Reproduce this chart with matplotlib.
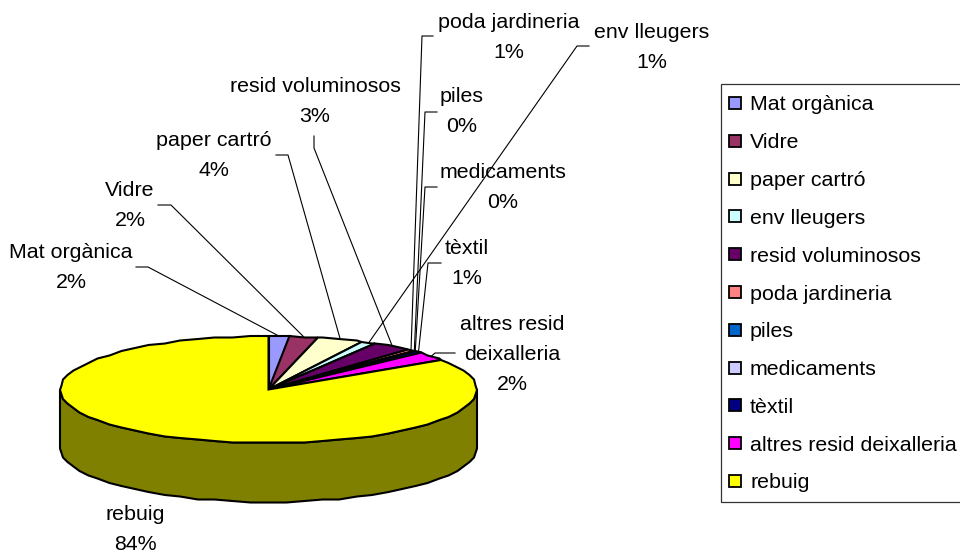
"""
Waste fractions pie drawn as a tilted 3D disc with leader lines and a boxed legend
"""
import numpy as np
import matplotlib
matplotlib.use('Agg')
import matplotlib.pyplot as plt
from matplotlib.patches import Polygon, Rectangle

categories = ['Mat orgànica', 'Vidre', 'paper cartró', 'env lleugers', 'resid voluminosos',
              'poda jardineria', 'piles', 'medicaments', 'tèxtil', 'altres resid deixalleria', 'rebuig']
values = [1.6, 2.2, 3.6, 1.2, 3.1, 0.6, 0.1, 0.1, 0.6, 2.4, 84.4]
colors = ['#9999FF', '#993366', '#FFFFCC', '#CCFFFF', '#660066', '#FF8080',
          '#0066CC', '#CCCCFF', '#000080', '#FF00FF', '#FFFF00']
side_color = '#808000'

# label layout in pixels: text lines, centre x, first line y, leader elbow points
label_lines = [['Mat orgànica'], ['Vidre'], ['paper cartró'], ['env lleugers'], ['resid voluminosos'],
               ['poda jardineria'], ['piles'], ['medicaments'], ['tèxtil'],
               ['altres resid', 'deixalleria'], ['rebuig']]
label_x = [71, 130, 214, 652, 315, 509, 462, 503, 467, 512, 135]
label_y = [253, 191, 141, 32, 87, 22, 97, 173, 249, 324, 515]
leaders = [[(136, 267), (148, 267)], [(158, 205), (171, 205)], [(276, 155), (288, 155)],
           [(589, 46), (577, 46)], [(314, 136), (314, 148)], [(433, 36), (422, 36)],
           [(437, 112), (425, 112)], [(437, 187), (425, 187)], [(441, 263), (428, 263)],
           [(455, 353), (435, 353)], None]

# disc geometry in pixels
cx, cy = 268.5, 389.5
rx, ry = 208, 53.5
depth = 59
step = 5
snap = 1.5  # the original rim is slightly stepped

plt.rcParams['font.family'] = ['Liberation Sans', 'DejaVu Sans']
font_size = 15.4
line_height = 30

fig = plt.figure(figsize=(9.6, 5.54), dpi=100)
ax = fig.add_axes([0, 0, 1, 1])
ax.set_xlim(0, 960)
ax.set_ylim(554, 0)
ax.axis('off')


def rim_point(angle, dy=0):
    rad = np.radians(angle)
    return (cx + rx * np.sin(rad), cy - ry * np.cos(rad) + dy)


def rim_points(start, end, dy=0):
    inner = np.arange(np.ceil(start / step) * step, end, step)
    angles = [start] + [a for a in inner if a > start] + [end]
    return [(round(x / snap) * snap, round(y / snap) * snap)
            for x, y in (rim_point(a, dy) for a in angles)]


# side wall, front half of the disc
front = rim_points(90, 270)
back = rim_points(90, 270, depth)[::-1]
ax.add_patch(Polygon(front + back, closed=True, facecolor=side_color, edgecolor='black',
                     linewidth=1.5, joinstyle='round'))

# top slices and leader lines
edges = np.cumsum([0] + values) / sum(values) * 360
for i, name in enumerate(categories):
    pts = [(cx, cy)] + rim_points(edges[i], edges[i + 1])
    ax.add_patch(Polygon(pts, closed=True, facecolor=colors[i], edgecolor='black',
                         linewidth=1.5, joinstyle='miter', zorder=2))

    if leaders[i] is not None:
        mid = (edges[i] + edges[i + 1]) / 2
        xs, ys = zip(*(leaders[i] + [rim_point(mid)]))
        ax.plot(xs, ys, color='black', linewidth=0.8, zorder=3)

    lines = label_lines[i] + [f"{values[i]:.0f}%"]
    for j, line in enumerate(lines):
        ax.text(label_x[i], label_y[i] + j * line_height, line, fontsize=font_size,
                ha='center', va='center', color='black', zorder=4)

# legend box runs past the right edge of the picture
ax.add_patch(Rectangle((721, 84), 260, 418, facecolor='white', edgecolor='#333333', linewidth=0.9))
for i, name in enumerate(categories):
    y = 103 + i * 37.8
    ax.add_patch(Rectangle((729, y - 6), 12, 12, facecolor=colors[i], edgecolor='black', linewidth=1.3))
    ax.text(750, y + 2, name, fontsize=font_size, ha='left', va='center', color='black')

plt.savefig('out.png', dpi=100)
plt.close()
